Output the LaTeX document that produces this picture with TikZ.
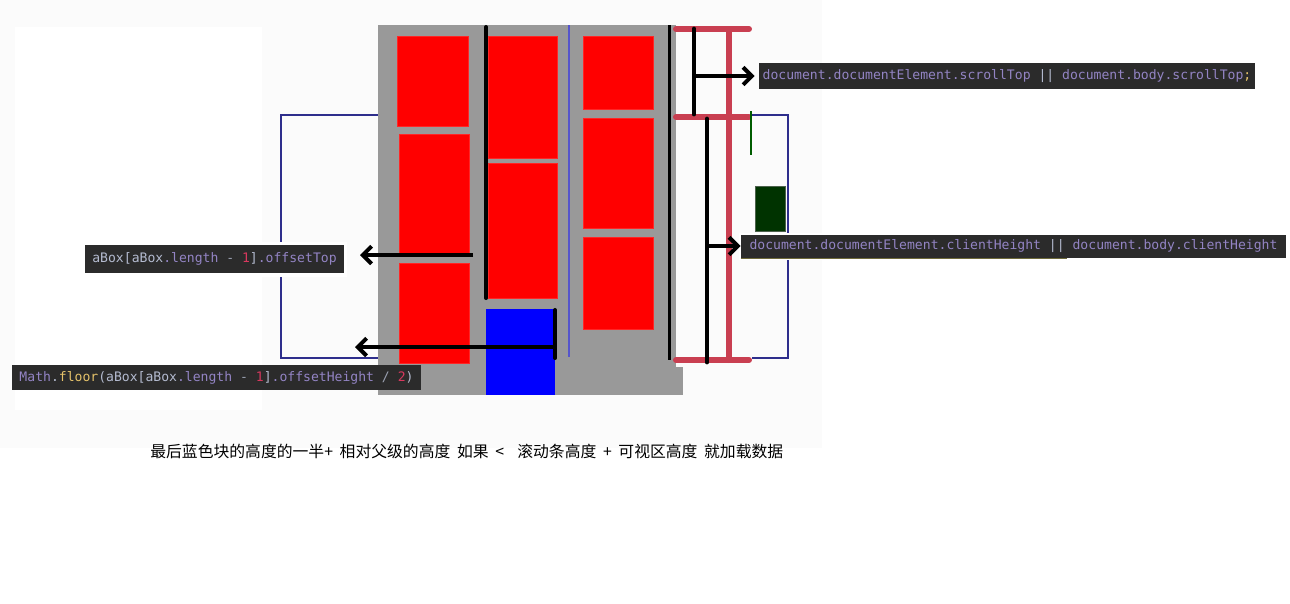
\documentclass[tikz,border=0pt]{standalone}
\usepackage{fontspec}
\newfontfamily\cjkfont{Noto Sans CJK SC}
\newfontfamily\codefont{DejaVu Sans Mono}
\usetikzlibrary{arrows.meta}
\definecolor{boxgray}{HTML}{999999}
\definecolor{navyline}{HTML}{2E2E8C}
\definecolor{crim}{HTML}{C93F51}
\definecolor{codebg}{HTML}{2B2B2B}
\definecolor{cpurple}{HTML}{9384C4}
\definecolor{clight}{HTML}{B4BBD0}
\definecolor{cred}{HTML}{D8385E}
\definecolor{cyel}{HTML}{E5C26A}
\definecolor{cgrey}{HTML}{9AA0B0}
\definecolor{dgreen}{HTML}{003300}
\definecolor{thinblue}{HTML}{5555CC}
\definecolor{faintbg}{HTML}{FBFBFB}
\definecolor{olivel}{HTML}{6E6A3A}
\newcommand\tP[1]{\textcolor{cpurple}{#1}}
\newcommand\tL[1]{\textcolor{clight}{#1}}
\newcommand\tR[1]{\textcolor{cred}{#1}}
\newcommand\tY[1]{\textcolor{cyel}{#1}}
\newcommand\tG[1]{\textcolor{cgrey}{#1}}
\newcommand\wsp{\hspace{0.42em}}
\begin{document}
\begin{tikzpicture}[x=0.02cm,y=-0.02cm,
  redbox/.style={fill=red, draw=red!85!white, line width=0.4pt},
  codebox/.style={fill=codebg, text=cpurple, inner xsep=0pt, inner ysep=0pt,
    font=\codefont\fontsize{7.45pt}{9pt}\selectfont},
  halo/.style={preaction={draw=white, line width=4pt}},
  blackline/.style={line width=2.3pt, line cap=round},
  arr/.style={line width=2.3pt, -{Straight Barb[length=5pt,width=10pt]}},
  crimline/.style={crim, line width=3.4pt, line cap=round},
  navybr/.style={navyline, line width=1.2pt}
]
\useasboundingbox (0,0) rectangle (1290,603);
% faint page background
\fill[faintbg] (0,0) rectangle (822,448);
\fill[white] (15,27) rectangle (262,410);

% left navy bracket
\draw[navybr] (378,115) -- (281,115) -- (281,358) -- (378,358);
% right navy bracket
\draw[navybr] (752,115) -- (788,115) -- (788,358) -- (752,358);

% gray container
\fill[boxgray] (378,25) rectangle (676,395);
\fill[boxgray] (676,367) rectangle (683,395);

% red boxes
\filldraw[redbox] (397,36) rectangle (468,126);
\filldraw[redbox] (399,134) rectangle (469,255);
\filldraw[redbox] (399,263) rectangle (469,363);
\filldraw[redbox] (488,36) rectangle (557,158);
\filldraw[redbox] (488,163) rectangle (557,298);
\filldraw[redbox] (583,36) rectangle (653,109);
\filldraw[redbox] (583,118) rectangle (653,228);
\filldraw[redbox] (583,237) rectangle (653,329);
% blue box
\fill[blue] (486,309) rectangle (555,395);

% thin blue line
\draw[thinblue, line width=0.9pt] (569,25) -- (569,357);

% black lines in container
\draw[blackline] (486,27) -- (486,298);
\draw[line width=1.7pt] (669,25) -- (669,360);
\draw[blackline] (555,310) -- (555,358);

% crimson bracket
\draw[crimline] (729,29) -- (729,360);
\draw[crimline] (676,29) -- (749,29);
\draw[crimline] (676,117) -- (749,117);
\draw[crimline] (676,360) -- (749,360);
% black verticals on bracket
\draw[blackline, line width=2.8pt] (694,29) -- (694,114);
\draw[blackline, line width=2.8pt] (707,119) -- (707,362);

% dark green marks
\draw[dgreen!80!green, line width=0.8pt] (751,111) -- (751,155);
\filldraw[fill=dgreen, draw=gray!60!dgreen, line width=0.5pt] (755,186) rectangle (785,231);

% code labels
\node[codebox, halo, minimum width=5.18cm, minimum height=0.56cm] (lab1) at (214.5,259)
  {\tL{aBox[aBox}\tP{.length} \tG{-} \tR{1}\tL{]}\tP{.offsetTop}};
\node[codebox, minimum width=8.18cm, minimum height=0.5cm] (lab2) at (216.5,377.5)
  {\tP{Math}\tL{.}\tY{floor}\tL{(aBox[aBox}\tP{.length} \tG{-} \tR{1}\tL{]}\tP{.offsetHeight} \tG{/} \tR{2}\tL{)}};
\node[codebox, minimum width=9.92cm, minimum height=0.52cm] (lab3) at (1007,76)
  {\tP{document.documentElement.scrollTop} \textcolor{clight}{||} \tP{document.body.scrollTop}\tY{;}};
\node[codebox, preaction={draw=white, line width=2.5pt}, minimum width=10.9cm, minimum height=0.46cm] (lab4) at (1013.5,246.5)
  {\tP{document.documentElement.clientHeight} \textcolor{clight}{||} \tP{document.body.clientHeight}};
\draw[olivel, line width=0.6pt] (lab4.south west) -- ++(326,0);

% arrows
\coordinate (s1) at (473,255);
\coordinate (e1) at (360,255);
\coordinate (s2) at (555,347);
\coordinate (e2) at (355,347);
\coordinate (s3) at (694,76);
\coordinate (s4) at (707,246);
\draw[arr] (s1) -- (e1);
\draw[arr] (s2) -- (e2);
\draw[arr] (s3) -- ([xshift=-0.08cm]s3 -| lab3.west);
\draw[arr] (s4) -- (s4 -| lab4.west);

% caption
\node[anchor=west, inner sep=0pt, font=\cjkfont\fontsize{9pt}{11pt}\selectfont] (cap) at (150,451)
  {最后蓝色块的高度的一半+\wsp 相对父级的高度\wsp 如果\wsp <\wsp\wsp 滚动条高度\wsp +\wsp 可视区高度\wsp 就加载数据};
\end{tikzpicture}
\end{document}
